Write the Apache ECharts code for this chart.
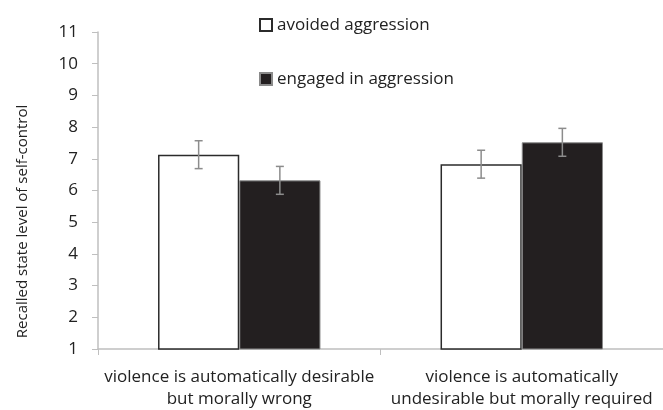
<!DOCTYPE html>
<html>
<head>
<meta charset="utf-8">
<script src="https://cdn.jsdelivr.net/npm/echarts@6/dist/echarts.min.js"></script>
<style>
  html, body { margin: 0; padding: 0; background: #fff; }
  #chart { width: 663px; height: 410px; }
</style>
</head>
<body>
<div id="chart"></div>
<script>
// Recalled self-control by moral/automatic framing and behaviour
const categories = [
  'violence is automatically desirable\nbut morally wrong',
  'violence is automatically\nundesirable but morally required'
];
const seriesNames = ['avoided aggression', 'engaged in aggression'];
const avoidedMeans = [7.13, 6.83];
const engagedMeans = [6.32, 7.52];
const avoidedErrors = [0.44, 0.44];
const engagedErrors = [0.44, 0.44];

const FONT = '"Open Sans", "Noto Sans", sans-serif';
const TEXT = '#222';
const AXIS = '#bfbfbf';
const GAP = 0.425;

const chart = echarts.init(document.getElementById('chart'));

// Error bars drawn from the means and errors, placed on each bar's centre
function errorSeries(means, errs, side) {
  return {
    type: 'custom',
    name: 'err' + side,
    silent: true,
    z: 5,
    data: means.map((m, i) => [i, m, errs[i]]),
    renderItem: function (params, api) {
      const i = api.value(0);
      const m = api.value(1);
      const e = api.value(2);
      const band = api.size([1, 0])[0];
      const group = band * (1 - GAP);
      const cx = api.coord([i, m])[0] + side * group / 4;
      const yTop = api.coord([i, m + e])[1];
      const yBot = api.coord([i, m - e])[1];
      const cap = 4;
      const style = { stroke: '#8c8c8c', lineWidth: 1.5 };
      return {
        type: 'group',
        children: [
          { type: 'line', shape: { x1: cx, y1: yTop, x2: cx, y2: yBot }, style },
          { type: 'line', shape: { x1: cx - cap, y1: yTop, x2: cx + cap, y2: yTop }, style },
          { type: 'line', shape: { x1: cx - cap, y1: yBot, x2: cx + cap, y2: yBot }, style }
        ]
      };
    }
  };
}

chart.setOption({
  animation: false,
  textStyle: { fontFamily: FONT },
  grid: { left: 98, top: 32, right: -5, bottom: 59, containLabel: false },
  legend: {
    data: seriesNames,
    orient: 'vertical',
    left: 254,
    top: 11,
    itemWidth: 12,
    itemHeight: 12,
    itemGap: 36,
    icon: 'rect',
    selectedMode: false,
    textStyle: { fontFamily: FONT, fontSize: 17, color: TEXT, lineHeight: 18 }
  },
  xAxis: {
    type: 'category',
    data: categories,
    axisLine: { lineStyle: { color: AXIS, width: 1.5 } },
    axisTick: { show: true, length: 6, lineStyle: { color: AXIS } },
    axisLabel: { interval: 0, color: TEXT, fontSize: 17, lineHeight: 22, margin: 17, fontFamily: FONT }
  },
  yAxis: {
    type: 'value',
    min: 1,
    max: 11,
    interval: 1,
    name: 'Recalled state level of self-control',
    nameLocation: 'middle',
    nameGap: 68,
    nameRotate: 90,
    nameTextStyle: { color: TEXT, fontSize: 15, fontFamily: FONT, padding: [0, 62, 0, 0] },
    axisLine: { show: true, lineStyle: { color: AXIS, width: 1.5 } },
    axisTick: { show: true, length: 6, lineStyle: { color: AXIS } },
    splitLine: { show: false },
    axisLabel: { color: TEXT, fontSize: 17, margin: 20, fontFamily: FONT }
  },
  series: [
    {
      name: seriesNames[0],
      type: 'bar',
      data: avoidedMeans,
      barGap: '0%',
      barCategoryGap: (GAP * 100) + '%',
      itemStyle: { color: '#ffffff', borderColor: '#2b2b2b', borderWidth: 1.5 }
    },
    {
      name: seriesNames[1],
      type: 'bar',
      data: engagedMeans,
      barGap: '0%',
      barCategoryGap: (GAP * 100) + '%',
      itemStyle: { color: '#231f20', borderColor: '#8a8a8a', borderWidth: 1 }
    },
    errorSeries(avoidedMeans, avoidedErrors, -1),
    errorSeries(engagedMeans, engagedErrors, 1)
  ]
});
</script>
</body>
</html>
